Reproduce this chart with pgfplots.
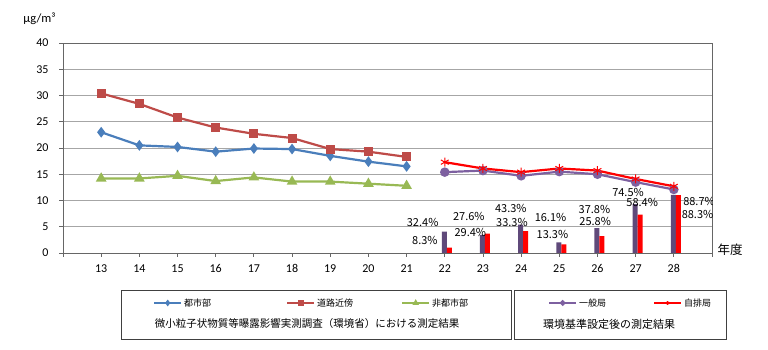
\documentclass[border=0pt]{standalone}
\usepackage{pgfplots}
\pgfplotsset{compat=1.18}
\usepackage{fontspec}
\setmainfont{Carlito}
\newfontfamily\jp{Noto Sans CJK JP}
\definecolor{cblue}{HTML}{4A7EBB}
\definecolor{cred}{HTML}{BE4B48}
\definecolor{cgreen}{HTML}{98B954}
\definecolor{cpurple}{HTML}{7D60A0}
\definecolor{cbar}{HTML}{5F497A}
\definecolor{cbright}{HTML}{FF0000}
\definecolor{gridc}{HTML}{A6A6A6}
\pgfplotsset{
  base/.style={scale only axis, width=649pt, height=210pt, at={(63pt,97pt)}, anchor=south west,
    xmin=12, xmax=29, ymin=0, ymax=40},
}
\begin{document}
\begin{tikzpicture}
\path[use as bounding box] (0pt,0pt) rectangle (768pt,350pt);
% main axis: grid, frame, survey data H13-H21
\begin{axis}[base,
  xtick={12,...,29},
  xticklabels={{},13,14,15,16,17,18,19,20,21,22,23,24,25,26,27,28,{}},
  ytick={0,5,...,40},
  xtick pos=left, ytick pos=left,
  ymajorgrids, grid style={gridc, line width=0.8pt},
  axis line style={black!60, line width=0.8pt},
  tick style={black!60, line width=0.8pt},
  tick align=outside, major tick length=4pt,
  /pgf/number format/assume math mode=true,
  tick label style={font=\fontsize{12}{14}\selectfont},
  xticklabel style={yshift=-4pt},
  yticklabel style={xshift=-7pt},
  legend columns=3,
  legend cell align=left,
  legend style={draw=none, fill=none, inner sep=0pt, at={(axis description cs:0.1387,-0.238)}, anchor=west,
    font=\jp\fontsize{9}{10}\selectfont,
    /tikz/every even column/.append style={column sep=0pt}},
  legend image code/.code={\draw[mark repeat=2,mark phase=2,#1,line width=2pt,mark size=1.8pt] plot coordinates {(0pt,0pt) (13.5pt,0pt) (27pt,0pt)};},
]
\addplot[cblue, line width=2.2pt, mark=diamond*, mark size=3.6pt, mark options={solid}]
  coordinates {(13,23.0) (14,20.5) (15,20.2) (16,19.3) (17,19.9) (18,19.8) (19,18.5) (20,17.4) (21,16.5)};
\addlegendentry{\makebox[100pt][l]{都市部}}
\addplot[cred, line width=2.2pt, mark=square*, mark size=3.4pt, mark options={solid}]
  coordinates {(13,30.4) (14,28.4) (15,25.8) (16,23.9) (17,22.7) (18,21.9) (19,19.8) (20,19.3) (21,18.3)};
\addlegendentry{\makebox[82pt][l]{道路近傍}}
\addplot[cgreen, line width=2.2pt, mark=triangle*, mark size=4pt, mark options={solid}]
  coordinates {(13,14.2) (14,14.2) (15,14.7) (16,13.7) (17,14.4) (18,13.6) (19,13.6) (20,13.2) (21,12.8)};
\addlegendentry{非都市部}
\end{axis}
% bars: achievement rates (%)
\begin{axis}[base, ymax=320, hide axis]
\addplot[ybar, bar width=5pt, bar shift=-0.5pt, fill=cbar, draw=none]
  coordinates {(22,32.4) (23,27.6) (24,43.3) (25,16.1) (26,37.8) (27,74.5) (28,88.7)};
\addplot[ybar, bar width=5pt, bar shift=4.5pt, fill=cbright, draw=none]
  coordinates {(22,8.3) (23,29.4) (24,33.3) (25,13.3) (26,25.8) (27,58.4) (28,88.3)};
\end{axis}
% monitoring data H22-H28
\begin{axis}[base, hide axis,
  legend columns=2,
  legend cell align=left,
  legend style={draw=none, fill=none, inner sep=0pt, at={(axis description cs:0.7473,-0.238)}, anchor=west,
    font=\jp\fontsize{9}{10}\selectfont,
    /tikz/every even column/.append style={column sep=0pt}},
  legend image code/.code={\draw[mark repeat=2,mark phase=2,#1,line width=2pt,mark size=1.8pt] plot coordinates {(0pt,0pt) (13.5pt,0pt) (27pt,0pt)};},
]
\addplot[cpurple, line width=2.2pt, mark=*, mark size=3.6pt, mark options={solid}]
  coordinates {(22,15.4) (23,15.7) (24,14.7) (25,15.5) (26,15.0) (27,13.5) (28,12.1)};
\addlegendentry{\makebox[72pt][l]{一般局}}
\addplot[cbright, line width=2.2pt, mark=asterisk, mark size=4.5pt, mark options={solid, line width=1pt}]
  coordinates {(22,17.3) (23,16.1) (24,15.4) (25,16.1) (26,15.7) (27,14.1) (28,12.7)};
\addlegendentry{自排局}
\begin{scope}[every node/.style={font=\jp\fontsize{11}{12}\selectfont, inner sep=0pt}]
\node at (axis cs:21.42,5.90) {32.4\%};
\node at (axis cs:21.48,2.48) {8.3\%};
\node at (axis cs:22.63,7.05) {27.6\%};
\node at (axis cs:22.67,4.00) {29.4\%};
\node at (axis cs:23.73,8.57) {43.3\%};
\node at (axis cs:23.76,5.90) {33.3\%};
\node at (axis cs:24.77,6.86) {16.1\%};
\node at (axis cs:24.82,3.62) {13.3\%};
\node at (axis cs:25.92,8.38) {37.8\%};
\node at (axis cs:25.94,6.10) {25.8\%};
\node at (axis cs:26.80,11.62) {74.5\%};
\node at (axis cs:27.17,9.71) {58.4\%};
\node at (axis cs:28.66,9.90) {88.7\%};
\node at (axis cs:28.62,7.43) {88.3\%};
\end{scope}
\end{axis}
\draw[black!75, line width=1pt] (121pt,10pt) rectangle (511pt,59pt);
\draw[black!75, line width=1pt] (514pt,10pt) rectangle (726pt,59pt);
\node[font=\jp\fontsize{10.5}{12}\selectfont] at (307pt,26pt) {微小粒子状物質等曝露影響実測調査（環境省）における測定結果};
\node[font=\jp\fontsize{11}{12}\selectfont] at (609pt,26pt) {環境基準設定後の測定結果};
\node[font=\fontsize{12.5}{14}\selectfont] at (39.5pt,331pt) {µg/m³};
\node[font=\jp\fontsize{12.5}{14}\selectfont] at (730pt,100pt) {年度};
\end{tikzpicture}
\end{document}
